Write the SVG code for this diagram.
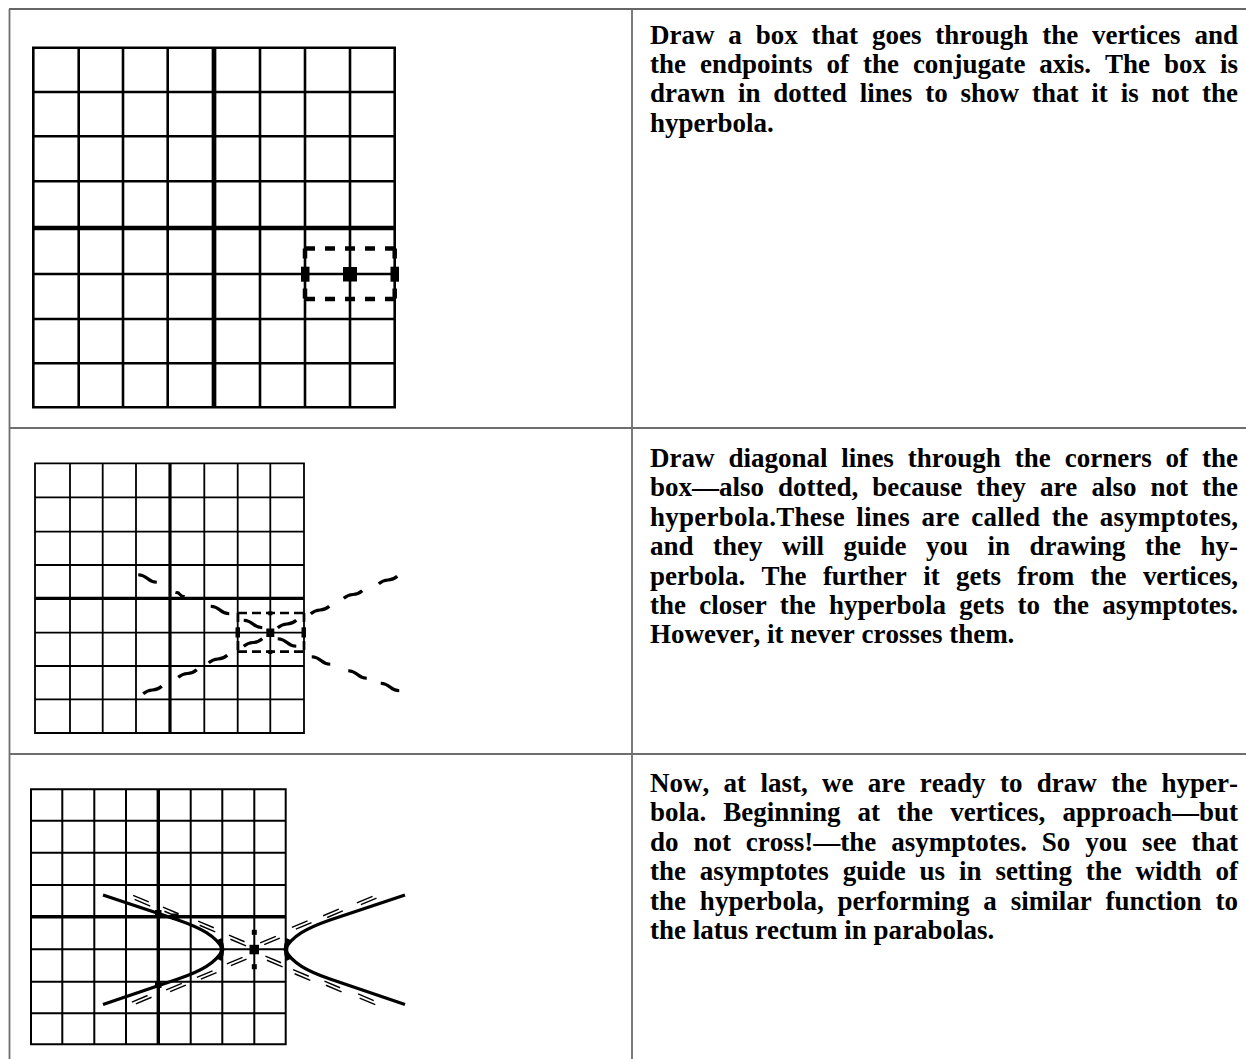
<svg xmlns="http://www.w3.org/2000/svg" width="1246" height="1059" viewBox="0 0 1246 1059">
<style>
.bg{fill:#fff}
.tbl{stroke:#6e6e6e;stroke-width:1.8;fill:none}
.tbltop{stroke:#333;stroke-width:1.6;fill:none}
.g1{stroke:#000;stroke-width:2.6;fill:none;stroke-linecap:square}
.a1{stroke:#000;stroke-width:4.7;fill:none}
.g2{stroke:#000;stroke-width:1.8;fill:none;stroke-linecap:square}
.a2{stroke:#000;stroke-width:3.2;fill:none}
.g3{stroke:#000;stroke-width:2;fill:none;stroke-linecap:square}
.a3{stroke:#000;stroke-width:3.4;fill:none}
.box1{stroke:#000;stroke-width:4.5;fill:none;stroke-dasharray:10 10}
.box2{stroke:#000;stroke-width:2.7;fill:none;stroke-dasharray:9 5}
.hyp{stroke:#000;stroke-width:3.3;fill:none;stroke-linejoin:round}
.t{font-family:'Liberation Serif','Times New Roman',serif;font-weight:bold;font-size:27px;fill:#000;font-kerning:none}
</style>
<defs>
<path id="d2" d="M-10,0 Q-5,-1.8 0,0 T10,0" stroke="#000" stroke-width="3.2" fill="none"/>
<path id="d3" d="M-10,-1.6 H7 M-7,1.6 H10" stroke="#000" stroke-width="1.4" fill="none"/>
</defs>
<rect class="bg" x="0" y="0" width="1246" height="1059"/>
<g id="table">
<path class="tbltop" d="M9,9 H1246"/>
<path class="tbl" d="M9.5,9 V1059 M632,9 V1059 M9.5,428 H1246 M9.5,754 H1246"/>
</g>
<g id="panel1">
<path class="g1" d="M33.3,47.7 V407.3 M78.7,47.7 V407.3 M123,47.7 V407.3 M167.7,47.7 V407.3 M260,47.7 V407.3 M305,47.7 V407.3 M350,47.7 V407.3 M394.7,47.7 V407.3 M33.3,47.7 H394.7 M33.3,92 H394.7 M33.3,136.3 H394.7 M33.3,181.3 H394.7 M33.3,274 H394.7 M33.3,319 H394.7 M33.3,363.3 H394.7 M33.3,407.3 H394.7"/>
<path class="a1" d="M214,47.7 V407.3 M33.3,228 H394.7"/>
<path class="box1" d="M305,248.5 H394.7 M305,299 H394.7 M305,248.5 V299 M394.7,248.5 V299"/>
<rect x="301" y="266.7" width="8.5" height="15"/>
<rect x="390.5" y="266.7" width="8.5" height="15"/>
<rect x="343" y="267" width="14" height="14.5"/>
</g>
<g id="panel2">
<path class="g2" d="M35,463.3 V733 M70,463.3 V733 M102.7,463.3 V733 M136,463.3 V733 M204.3,463.3 V733 M237.7,463.3 V733 M270.3,463.3 V733 M304,463.3 V733 M35,463.3 H304 M35,497.3 H304 M35,531.7 H304 M35,565 H304 M35,632.7 H304 M35,666 H304 M35,699.3 H304 M35,733 H304"/>
<path class="a2" d="M170,463.3 V733 M35,598.3 H304"/>
<path class="box2" d="M238,613 H304 M238,651.7 H304 M238,613 V651.7 M304,613 V651.7"/>
<rect x="266.3" y="628.5" width="8" height="8.5"/>
<rect x="235.5" y="627.5" width="4.5" height="10"/>
<rect x="301.5" y="627.5" width="4.5" height="10"/>
<rect x="268.3" y="611.3" width="4" height="4"/>
<rect x="268.3" y="650" width="4" height="4"/>
<use href="#d2" transform="translate(147.5,578.5) rotate(22)"/>
<use href="#d2" transform="translate(180,594.5) rotate(22) scale(0.5,1)"/>
<use href="#d2" transform="translate(220,610) rotate(22)"/>
<use href="#d2" transform="translate(253,624) rotate(22)"/>
<use href="#d2" transform="translate(287,624) rotate(-22)"/>
<use href="#d2" transform="translate(320,610) rotate(-22)"/>
<use href="#d2" transform="translate(353,594.5) rotate(-22)"/>
<use href="#d2" transform="translate(388,580) rotate(-22)"/>
<use href="#d2" transform="translate(253,642.5) rotate(-22)"/>
<use href="#d2" transform="translate(218,659) rotate(-22)"/>
<use href="#d2" transform="translate(187.5,673.5) rotate(-22)"/>
<use href="#d2" transform="translate(152.5,690) rotate(-22)"/>
<use href="#d2" transform="translate(287,642.5) rotate(22)"/>
<use href="#d2" transform="translate(321,660.5) rotate(22)"/>
<use href="#d2" transform="translate(357.5,674.5) rotate(22)"/>
<use href="#d2" transform="translate(390,687) rotate(22)"/>
</g>
<g id="panel3">
<path class="g3" d="M31,789.3 V1044.3 M62.3,789.3 V1044.3 M94.3,789.3 V1044.3 M126,789.3 V1044.3 M190.7,789.3 V1044.3 M222.3,789.3 V1044.3 M254.3,789.3 V1044.3 M285.7,789.3 V1044.3 M31,789.3 H285.7 M31,820.7 H285.7 M31,852.7 H285.7 M31,885 H285.7 M31,949.3 H285.7 M31,981.7 H285.7 M31,1013.3 H285.7 M31,1044.3 H285.7"/>
<path class="a3" d="M158.3,789.3 V1044.3 M31,916.7 H285.7"/>
<use href="#d3" transform="translate(141.7,900.7) rotate(23)"/>
<use href="#d3" transform="translate(171.5,912.5) rotate(23)"/>
<use href="#d3" transform="translate(206.7,926.5) rotate(23)"/>
<use href="#d3" transform="translate(237.5,940.5) rotate(23)"/>
<use href="#d3" transform="translate(270,940.5) rotate(-23)"/>
<use href="#d3" transform="translate(301.7,925) rotate(-23)"/>
<use href="#d3" transform="translate(333,913.3) rotate(-23)"/>
<use href="#d3" transform="translate(366.7,900.5) rotate(-23)"/>
<use href="#d3" transform="translate(236.7,961.5) rotate(-23)"/>
<use href="#d3" transform="translate(206.7,975) rotate(-23)"/>
<use href="#d3" transform="translate(176,987.5) rotate(-23)"/>
<use href="#d3" transform="translate(141.7,999.7) rotate(-23)"/>
<use href="#d3" transform="translate(274,961.5) rotate(23)"/>
<use href="#d3" transform="translate(301.7,975) rotate(23)"/>
<use href="#d3" transform="translate(333,986.5) rotate(23)"/>
<use href="#d3" transform="translate(366.7,999.3) rotate(23)"/>
<path class="hyp" d="M405,895 L330,920 C307,928 292,936 285,949.5 C292,963 307,971 330,979 L405,1004.5"/>
<path class="hyp" d="M103,895 L178,920 C201,928 216,936 223,949.5 C216,963 201,971 178,979 L103,1004.5"/>
<path d="M288.5,939 Q283.5,949.5 288.5,960" stroke="#000" stroke-width="4.5" fill="none"/>
<path d="M219.5,939 Q224.5,949.5 219.5,960" stroke="#000" stroke-width="4.5" fill="none"/>
<rect x="155" y="910" width="6.5" height="6.5"/>
<rect x="172" y="913.5" width="6.5" height="6.5"/>
<rect x="155" y="981.5" width="6.5" height="6.5"/>
<rect x="249.5" y="944.8" width="9.5" height="9.5"/>
<rect x="251.8" y="929.8" width="5" height="5"/>
<rect x="251.8" y="964.2" width="5" height="5"/>
</g>
<g id="text1">
<text class="t" x="650" y="43.5" word-spacing="7.1" textLength="588" lengthAdjust="spacing">Draw a box that goes through the vertices and</text>
<text class="t" x="650" y="72.9" word-spacing="7.2" textLength="588" lengthAdjust="spacing">the endpoints of the conjugate axis. The box is</text>
<text class="t" x="650" y="102.3" word-spacing="6.1" textLength="588" lengthAdjust="spacing">drawn in dotted lines to show that it is not the</text>
<text class="t" x="650" y="131.7">hyperbola.</text>
</g>
<g id="text2">
<text class="t" x="650" y="467" word-spacing="7.2" textLength="588" lengthAdjust="spacing">Draw diagonal lines through the corners of the</text>
<text class="t" x="650" y="496.4" word-spacing="7.3" textLength="588" lengthAdjust="spacing">box—also dotted, because they are also not the</text>
<text class="t" x="650" y="525.8" word-spacing="4.5" textLength="588" lengthAdjust="spacing">hyperbola.These lines are called the asymptotes,</text>
<text class="t" x="650" y="555.2" word-spacing="12.7" textLength="588" lengthAdjust="spacing">and they will guide you in drawing the hy-</text>
<text class="t" x="650" y="584.6" word-spacing="9.6" textLength="588" lengthAdjust="spacing">perbola. The further it gets from the vertices,</text>
<text class="t" x="650" y="614" word-spacing="6.4" textLength="588" lengthAdjust="spacing">the closer the hyperbola gets to the asymptotes.</text>
<text class="t" x="650" y="643.4">However, it never crosses them.</text>
</g>
<g id="text3">
<text class="t" x="650" y="792" word-spacing="7.6" textLength="588" lengthAdjust="spacing">Now, at last, we are ready to draw the hyper-</text>
<text class="t" x="650" y="821.4" word-spacing="10.3" textLength="588" lengthAdjust="spacing">bola. Beginning at the vertices, approach—but</text>
<text class="t" x="650" y="850.8" word-spacing="8.1" textLength="588" lengthAdjust="spacing">do not cross!—the asymptotes. So you see that</text>
<text class="t" x="650" y="880.2" word-spacing="7.1" textLength="588" lengthAdjust="spacing">the asymptotes guide us in setting the width of</text>
<text class="t" x="650" y="909.6" word-spacing="7.1" textLength="588" lengthAdjust="spacing">the hyperbola, performing a similar function to</text>
<text class="t" x="650" y="939">the latus rectum in parabolas.</text>
</g>
</svg>
